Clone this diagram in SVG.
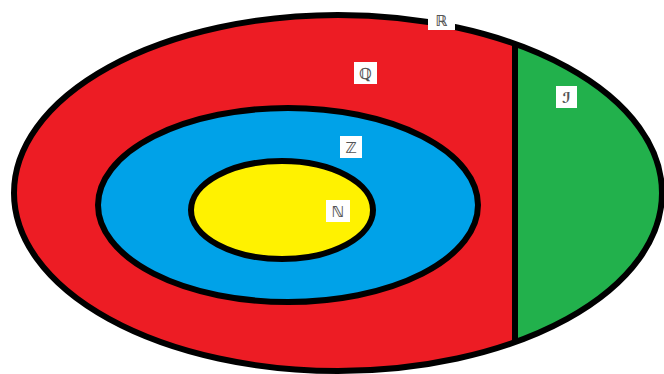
<svg xmlns="http://www.w3.org/2000/svg" width="664" height="374" viewBox="0 0 664 374">
<style>
.o{stroke:#000;stroke-width:6}
.lb{fill:#fff}
.t{font-family:"DejaVu Serif","DejaVu Sans",serif;font-size:15px;font-weight:bold;fill:#555;text-anchor:middle}
</style>
<defs>
<clipPath id="right"><rect x="515" y="0" width="160" height="374"/></clipPath>
<clipPath id="inside"><ellipse cx="338" cy="193" rx="324" ry="178"/></clipPath>
</defs>
<rect width="664" height="374" fill="#fff"/>
<g id="R">
<ellipse cx="338" cy="193" rx="324" ry="178" fill="#ED1C24"/>
</g>
<g id="I">
<ellipse cx="338" cy="193" rx="324" ry="178" fill="#22B14C" clip-path="url(#right)"/>
</g>
<g id="connectors">
<line x1="515" y1="20" x2="515" y2="370" class="o" clip-path="url(#inside)"/>
<ellipse cx="338" cy="193" rx="324" ry="178" fill="none" class="o"/>
</g>
<g id="Z">
<ellipse cx="288" cy="205" rx="190" ry="97" fill="#00A2E8" class="o"/>
</g>
<g id="N">
<ellipse cx="282" cy="210" rx="91" ry="49" fill="#FFF200" class="o"/>
</g>
<g id="labels">
<rect class="lb" x="428" y="10" width="27" height="20"/>
<text class="t" x="441.5" y="26">ℝ</text>
<rect class="lb" x="354" y="62" width="23" height="22"/>
<text class="t" x="365.5" y="79">ℚ</text>
<rect class="lb" x="340" y="136" width="22" height="22"/>
<text class="t" x="351" y="153">ℤ</text>
<rect class="lb" x="326" y="200" width="24" height="22"/>
<text class="t" x="338" y="217">ℕ</text>
<rect class="lb" x="556" y="86" width="21" height="22"/>
<text class="t" x="566.5" y="103" style="font-style:italic">ℐ</text>
</g>
</svg>
